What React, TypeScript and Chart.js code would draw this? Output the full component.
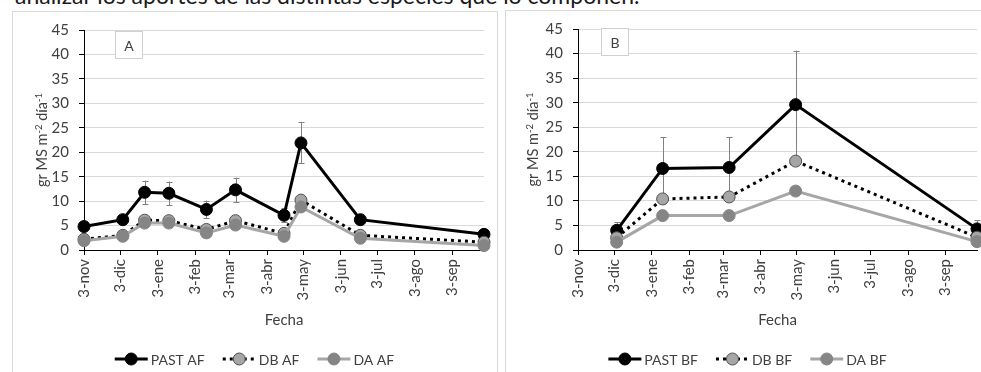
import React, { useEffect, useRef } from 'react';
import { Chart, registerables } from 'chart.js';
Chart.register(...registerables);

// ---- data ----
const tickDays = [0, 30, 61, 92, 120, 151, 181, 212, 242, 273, 304];
const tickLabels = ['3-nov', '3-dic', '3-ene', '3-feb', '3-mar', '3-abr', '3-may', '3-jun', '3-jul', '3-ago', '3-sep'];

const daysA = [0, 32, 50, 70, 101, 125, 165, 179, 228, 330];
const pastAF = [4.8, 6.2, 11.8, 11.6, 8.3, 12.3, 7.1, 21.9, 6.2, 3.2];
const pastAFErr = [0.7, 0.8, 2.4, 2.4, 1.8, 2.5, 1.4, 4.2, 0.8, 0.6];
const dbAF = [2.2, 3.0, 6.1, 6.0, 4.2, 6.0, 3.4, 10.2, 3.0, 1.6];
const daAF = [1.9, 2.8, 5.5, 5.5, 3.5, 5.1, 2.8, 8.8, 2.4, 0.9];

const daysB = [32, 70, 125, 180, 330];
const pastBF = [4.0, 16.6, 16.8, 29.6, 4.3];
const pastBFErr = [1.6, 6.4, 6.2, 11.0, 1.8];
const dbBF = [2.5, 10.4, 10.8, 18.1, 2.6];
const daBF = [1.6, 7.0, 7.0, 12.0, 1.7];

const namesA = ['PAST AF', 'DB AF', 'DA AF'];
const namesB = ['PAST BF', 'DB BF', 'DA BF'];

const FONT = 'Lato';
const TXT = '#404040';

type Style = {
  line: string; width: number; dash: number[]; fill: string; border: string;
};
const styles: Style[] = [
  { line: '#000000', width: 3, dash: [], fill: '#000000', border: '#000000' },
  { line: '#000000', width: 3, dash: [3, 4], fill: '#a6a6a6', border: '#505050' },
  { line: '#a6a6a6', width: 3, dash: [], fill: '#858585', border: '#858585' },
];

const errorPlugin = {
  id: 'errBars',
  beforeDatasetsDraw(chart: any, _a: any, opts: any) {
    const { ctx, scales } = chart;
    const { days, vals, errs } = opts;
    ctx.save();
    ctx.strokeStyle = '#808080';
    ctx.lineWidth = 1;
    for (let i = 0; i < vals.length; i++) {
      const x = Math.round(scales.x.getPixelForValue(days[i])) + 0.5;
      const y1 = scales.y.getPixelForValue(vals[i] + errs[i]);
      const y2 = scales.y.getPixelForValue(Math.max(0, vals[i] - errs[i]));
      ctx.beginPath();
      ctx.moveTo(x, y1); ctx.lineTo(x, y2);
      ctx.moveTo(x - 3, Math.round(y1) + 0.5); ctx.lineTo(x + 3, Math.round(y1) + 0.5);
      ctx.moveTo(x - 3, Math.round(y2) + 0.5); ctx.lineTo(x + 3, Math.round(y2) + 0.5);
      ctx.stroke();
    }
    ctx.restore();
  },
};

const decorPlugin = {
  id: 'decor',
  afterDraw(chart: any, _a: any, opts: any) {
    const { ctx, chartArea } = chart;
    ctx.save();
    // letter box
    const bx = Math.round(chartArea.left + opts.boxDx) + 0.5;
    const by = Math.round(chartArea.top + opts.boxDy) + 0.5;
    ctx.fillStyle = '#ffffff';
    ctx.fillRect(bx, by, 27, 27);
    ctx.strokeStyle = '#d0d0d0';
    ctx.lineWidth = 1;
    ctx.strokeRect(bx, by, 27, 27);
    ctx.fillStyle = TXT;
    ctx.font = `14px ${FONT}`;
    ctx.textAlign = 'center';
    ctx.textBaseline = 'middle';
    ctx.fillText(opts.letter, bx + 13.5, by + 15);

    // y title with superscripts
    const segs: [string, boolean][] = [['gr MS m', false], ['-2', true], [' día', false], ['-1', true]];
    const mainF = `14.5px ${FONT}`;
    const supF = `9.5px ${FONT}`;
    let total = 0;
    const ws = segs.map(([t, s]) => { ctx.font = s ? supF : mainF; const w = ctx.measureText(t).width; total += w; return w; });
    ctx.translate(opts.yTitleX, (chartArea.top + chartArea.bottom) / 2);
    ctx.rotate(-Math.PI / 2);
    ctx.textAlign = 'left';
    ctx.textBaseline = 'alphabetic';
    let x = -total / 2;
    segs.forEach(([t, s], i) => {
      ctx.font = s ? supF : mainF;
      ctx.fillText(t, x, s ? 0 : 5);
      x += ws[i];
    });
    ctx.setTransform(1, 0, 0, 1, 0, 0);

    // legend
    const names: string[] = opts.names;
    ctx.font = `14px ${FONT}`;
    const lineLen = 33, gapT = 3, gapI = 18;
    const tw = names.map((n) => ctx.measureText(n).width);
    const tot = tw.reduce((a, b) => a + b, 0) + names.length * (lineLen + gapT) + gapI * (names.length - 1);
    let lx = chart.width / 2 - tot / 2;
    const ly = opts.legendY;
    names.forEach((n, i) => {
      const st = styles[i];
      ctx.beginPath();
      ctx.strokeStyle = st.line;
      ctx.lineWidth = st.width;
      ctx.setLineDash(st.dash);
      ctx.moveTo(lx, ly); ctx.lineTo(lx + lineLen, ly);
      ctx.stroke();
      ctx.setLineDash([]);
      ctx.beginPath();
      ctx.arc(lx + lineLen / 2, ly, 6, 0, Math.PI * 2);
      ctx.fillStyle = st.fill;
      ctx.fill();
      ctx.lineWidth = 1;
      ctx.strokeStyle = st.border;
      ctx.stroke();
      ctx.fillStyle = TXT;
      ctx.textAlign = 'left';
      ctx.textBaseline = 'middle';
      ctx.fillText(n, lx + lineLen + gapT, ly + 1);
      lx += lineLen + gapT + tw[i] + gapI;
    });
    ctx.restore();
  },
};

type Cfg = {
  letter: string; days: number[]; past: number[]; err: number[]; db: number[]; da: number[];
  names: string[]; yWidth: number; boxDx: number; boxDy: number; legendY: number; yTitleX: number;
  w: number; h: number;
};

function Panel({ cfg, left, top }: { cfg: Cfg; left: number; top: number }) {
  const ref = useRef<HTMLCanvasElement>(null);
  useEffect(() => {
    const series = [cfg.past, cfg.db, cfg.da];
    const chart = new Chart(ref.current as HTMLCanvasElement, {
      type: 'line',
      data: {
        datasets: series.map((vals, si) => ({
          label: cfg.names[si],
          data: vals.map((v, i) => ({ x: cfg.days[i], y: v })),
          borderColor: styles[si].line,
          borderWidth: styles[si].width,
          borderDash: styles[si].dash,
          pointRadius: 6,
          pointBorderWidth: 1,
          pointBackgroundColor: styles[si].fill,
          pointBorderColor: styles[si].border,
          tension: 0,
          clip: false as any,
          order: 3 - si,
        })),
      },
      options: {
        responsive: false,
        animation: false,
        devicePixelRatio: 1,
        events: [],
        layout: { padding: { left: 0, right: 13, top: 17, bottom: 0 } },
        plugins: {
          legend: { display: false },
          tooltip: { enabled: false },
          errBars: { days: cfg.days, vals: cfg.past, errs: cfg.err },
          decor: { letter: cfg.letter, names: cfg.names, boxDx: cfg.boxDx, boxDy: cfg.boxDy, legendY: cfg.legendY, yTitleX: cfg.yTitleX },
        } as any,
        scales: {
          x: {
            type: 'linear',
            min: 0,
            max: 330,
            afterBuildTicks: (s: any) => { s.ticks = tickDays.map((v) => ({ value: v })); },
            afterFit: (s: any) => { s.height = 122; },
            ticks: {
              autoSkip: false,
              minRotation: 90,
              maxRotation: 90,
              padding: 4,
              color: TXT,
              font: { family: FONT, size: 15 },
              callback: (_v: any, i: number) => tickLabels[i],
            },
            grid: { drawOnChartArea: false, drawTicks: true, tickLength: 5, color: '#000', tickColor: '#000' },
            border: { color: '#000', width: 1 },
            title: { display: true, text: 'Fecha', color: TXT, font: { family: FONT, size: 15 }, padding: { top: 0, bottom: 43 } },
          },
          y: {
            min: 0,
            max: 45,
            afterFit: (s: any) => { s.width = cfg.yWidth; },
            ticks: { stepSize: 5, padding: 10, color: TXT, font: { family: FONT, size: 15 } },
            grid: { color: '#d9d9d9', tickColor: '#000', tickLength: 5 },
            border: { color: '#000', width: 1 },
          },
        } as any,
      },
      plugins: [errorPlugin, decorPlugin],
    } as any);
    return () => chart.destroy();
  }, []);
  return (
    <canvas ref={ref} width={cfg.w} height={cfg.h}
      style={{ position: 'absolute', left, top, width: cfg.w, height: cfg.h, display: 'block' }} />
  );
}

const cfgA: Cfg = {
  letter: 'A', days: daysA, past: pastAF, err: pastAFErr, db: dbAF, da: daAF, names: namesA,
  yWidth: 72, boxDx: 31, boxDy: 1, legendY: 348, yTitleX: 30, w: 485, h: 361,
};
const cfgB: Cfg = {
  letter: 'B', days: daysB, past: pastBF, err: pastBFErr, db: dbBF, da: daBF, names: namesB,
  yWidth: 73, boxDx: 23, boxDy: -1, legendY: 349, yTitleX: 28, w: 485, h: 362,
};

export default function App() {
  return (
    <div style={{ position: 'absolute', left: 0, top: 0, width: 981, height: 372, overflow: 'hidden', background: '#fff' }}>
      <div style={{ position: 'absolute', left: 15, top: -16, fontFamily: FONT, fontSize: 23, lineHeight: '23px', whiteSpace: 'nowrap', color: '#1a1a1a' }}>
        analizar los aportes de las distintas especies que lo componen.
      </div>
      <div style={{ position: 'absolute', left: 12, top: 11, width: 486, height: 400, border: '1px solid #d9d9d9', boxSizing: 'border-box' }} />
      <div style={{ position: 'absolute', left: 505, top: 10, width: 486, height: 400, border: '1px solid #d9d9d9', boxSizing: 'border-box' }} />
      <Panel cfg={cfgA} left={12} top={11} />
      <Panel cfg={cfgB} left={505} top={10} />
    </div>
  );
}
